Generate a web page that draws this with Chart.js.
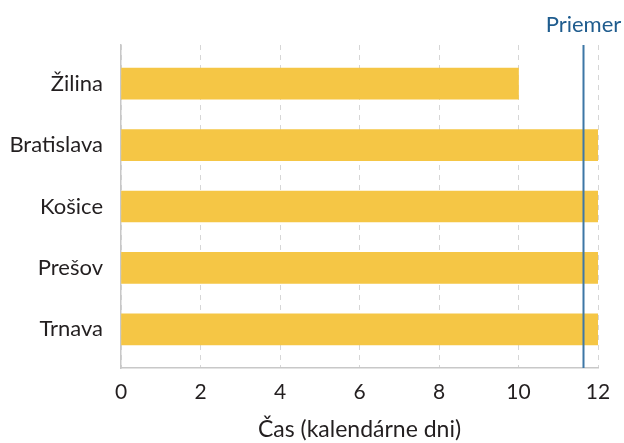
<!DOCTYPE html>
<html>
<head>
<meta charset="utf-8">
<script src="https://cdn.jsdelivr.net/npm/chart.js@4.4.1/dist/chart.umd.min.js"></script>
<style>
  html, body { margin: 0; padding: 0; background: #fff; }
  #wrap { width: 624px; height: 443px; }
</style>
</head>
<body>
<div id="wrap"><canvas id="c" width="624" height="443"></canvas></div>
<script>
// Processing time per city, in calendar days
const cities = ['Žilina', 'Bratislava', 'Košice', 'Prešov', 'Trnava'];
const days = [10, 12, 12, 12, 12];
const averageDays = 11.62;
const averageLabel = 'Priemer';
const xTicks = [0, 2, 4, 6, 8, 10, 12];
const xTitle = 'Čas (kalendárne dni)';

const FONT = 'Lato, "Open Sans", sans-serif';
const TEXT = '#231f20';

// Vertical reference line for the average, labelled above the plot
const averageLine = {
  id: 'averageLine',
  afterDatasetsDraw(chart) {
    const { ctx, chartArea, scales } = chart;
    const x = Math.round(scales.x.getPixelForValue(averageDays)) + 0.5;
    ctx.save();
    ctx.strokeStyle = '#3d77a6';
    ctx.lineWidth = 2;
    ctx.beginPath();
    ctx.moveTo(x, chartArea.top);
    ctx.lineTo(x, chartArea.bottom);
    ctx.stroke();
    ctx.fillStyle = '#1f5c8e';
    ctx.font = '22px ' + FONT;
    ctx.textAlign = 'center';
    ctx.textBaseline = 'alphabetic';
    ctx.fillText(averageLabel, x, chartArea.top - 13);
    ctx.restore();
  }
};

new Chart(document.getElementById('c'), {
  type: 'bar',
  data: {
    datasets: [{
      data: cities.map((c, i) => ({ x: days[i], y: i })),
      backgroundColor: '#f5c645',
      borderWidth: 0,
      barThickness: 31
    }]
  },
  options: {
    indexAxis: 'y',
    responsive: false,
    animation: false,
    devicePixelRatio: 1,
    layout: { padding: { top: 45, right: 26, left: 0, bottom: 0 } },
    plugins: { legend: { display: false }, tooltip: { enabled: false } },
    scales: {
      x: {
        type: 'linear',
        min: 0,
        max: 12,
        afterBuildTicks(scale) { scale.ticks = xTicks.map(v => ({ value: v })); },
        afterFit(scale) { scale.height = 75; },
        grid: {
          color: '#d6d6d6',
          lineWidth: 1,
          drawTicks: false
        },
        border: { display: true, color: '#c8c8c8', width: 1.5, dash: [5, 5] },
        ticks: {
          padding: 12,
          color: TEXT,
          font: { family: FONT, size: 21 }
        },
        title: {
          display: true,
          text: xTitle,
          color: TEXT,
          font: { family: FONT, size: 23 },
          padding: { top: 14, bottom: 0 }
        }
      },
      y: {
        type: 'linear',
        reverse: true,
        offset: false,
        min: -0.63,
        max: 4.63,
        afterBuildTicks(scale) { scale.ticks = cities.map((c, i) => ({ value: i })); },
        afterFit(scale) { scale.width = 121; },
        grid: { display: false, drawTicks: false },
        border: { display: true, color: '#c8c8c8', width: 1.5 },
        ticks: {
          padding: 18,
          color: TEXT,
          font: { family: FONT, size: 22 },
          callback: (v) => cities[v]
        }
      }
    }
  },
  plugins: [averageLine]
});
</script>
</body>
</html>
